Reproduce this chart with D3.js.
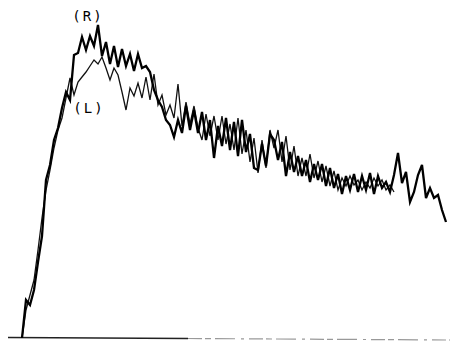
<!DOCTYPE html>
<html><head><meta charset="utf-8">
<script src="https://cdn.jsdelivr.net/npm/d3@7"></script>
<style>html,body{margin:0;padding:0;background:#fff;}svg{display:block;}</style>
</head><body>
<script>
// amplitude samples (arbitrary units), equally spaced in time
const seriesR = [0,38,33,48,76,102,158,173,198,210,
230,246,238,283,285,301,288,302,292,313,
282,296,274,292,271,289,272,284,267,284,
270,272,266,248,238,231,218,213,201,218,
205,232,208,228,205,226,198,218,180,212,
192,220,188,216,182,218,186,204,170,168,
194,172,204,198,178,196,162,186,166,182,
162,178,156,174,158,174,152,170,150,164,
144,162,148,164,146,162,148,165,144,162,
150,156,146,163,185,155,166,136,146,163,
173,140,150,140,143,128,116];
const seriesL = [0,28,43,58,88,120,148,168,190,208,
220,240,260,243,256,261,266,272,278,274,
281,270,258,270,263,246,228,250,242,255,
240,261,238,264,233,243,223,233,220,254,
212,236,214,232,210,198,224,202,222,198,
222,194,214,188,220,184,208,176,200,165,
198,170,208,190,208,176,202,168,192,162,
180,162,184,160,177,156,172,152,167,148,
160,152,162,153,158,148,156,150,160,152,
158,148,153,146];
const labels = ["(R)", "(L)"];

const W = 451, H = 341;
const svg = d3.select("body").append("svg").attr("width", W).attr("height", H);

const x = d3.scaleLinear().domain([0, seriesR.length - 1]).range([22, 446]);
const y = d3.scaleLinear().domain([0, 320]).range([338, 18]);

// baseline
svg.append("line").attr("x1", 8).attr("y1", 337.5).attr("x2", 188).attr("y2", 338.5)
  .attr("stroke", "#222").attr("stroke-width", 1.6);
svg.append("line").attr("x1", 188).attr("y1", 338.5).attr("x2", 450).attr("y2", 340)
  .attr("stroke", "#999").attr("stroke-width", 1.2).attr("stroke-dasharray", "14,3,6,4,20,6,3,5");

const line = d3.line().x((d, i) => x(i)).y(d => y(d));

svg.append("path").datum(seriesL).attr("d", line)
  .attr("fill", "none").attr("stroke", "#111").attr("stroke-width", 1.3).attr("stroke-linejoin", "miter");
svg.append("path").datum(seriesR).attr("d", line)
  .attr("fill", "none").attr("stroke", "#000").attr("stroke-width", 2.3).attr("stroke-linejoin", "miter");

const txt = svg.append("g").attr("font-family", "DejaVu Sans Mono, monospace").attr("font-size", 14)
  .attr("fill", "#000").attr("text-anchor", "middle").attr("letter-spacing", "2px");
txt.append("text").attr("x", 88).attr("y", 21).text(labels[0]);
txt.append("text").attr("x", 89).attr("y", 113).text(labels[1]);
</script>
</body></html>
